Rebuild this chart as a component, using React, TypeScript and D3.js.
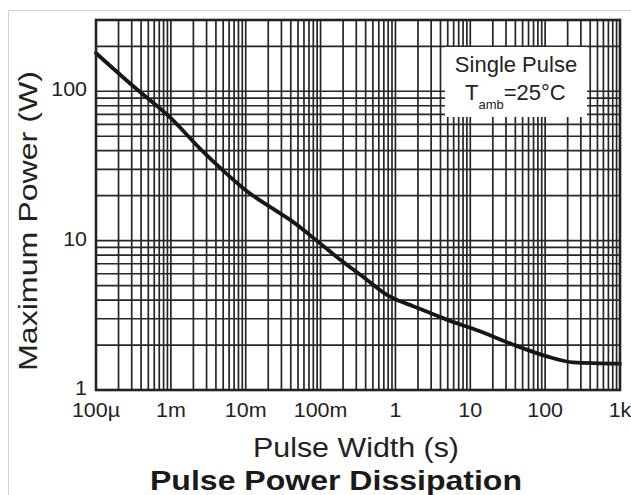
import React from "react";
import * as d3 from "d3";

const pulseWidth = [1e-4, 3.15e-4, 1e-3, 2.45e-3, 5e-3, 0.0104, 0.0233, 0.0432, 0.0887, 0.18, 0.41, 0.76, 1.0, 1.73, 4.84, 13.5, 37.6, 105, 238, 1000];
const maxPower = [180, 108, 66, 41.3, 29.4, 21.4, 16.3, 13.3, 10.0, 7.5, 5.5, 4.35, 4.05, 3.64, 2.96, 2.47, 2.01, 1.68, 1.53, 1.5];

const xTickValues = [1e-4, 1e-3, 1e-2, 1e-1, 1, 10, 100, 1000];
const xTickLabels = ["100\u00b5", "1m", "10m", "100m", "1", "10", "100", "1k"];
const yTickValues = [1, 10, 100];
const yTickLabels = ["1", "10", "100"];

const W = 631;
const H = 495;
const M = { left: 96, right: 620, top: 20, bottom: 390 };
const FONT = "'Liberation Sans', Arial, Helvetica, sans-serif";

export default function App() {
  const x = d3.scaleLog().domain([1e-4, 1e3]).range([M.left, M.right]);
  const y = d3.scaleLog().domain([1, 300]).range([M.bottom, M.top]);

  const xGrid: number[] = [];
  for (let e = -4; e < 3; e++) for (let k = 1; k <= 9; k++) xGrid.push(k * Math.pow(10, e));
  const yGrid: number[] = [];
  for (let e = 0; e < 3; e++) for (let k = 1; k <= 9; k++) {
    const v = k * Math.pow(10, e);
    if (v <= 300) yGrid.push(v);
  }

  const pts: [number, number][] = pulseWidth.map((t, i) => [x(t), y(maxPower[i])]);
  const line = d3.line().curve(d3.curveMonotoneX)(pts) || "";

  const gridColor = "#262626";
  const box = { x0: 445, x1: 587, y0: 47, y1: 117 };

  return (
    <svg width={W} height={H} style={{ position: "absolute", left: 0, top: 0, background: "#fff" }}>
      <rect x={0} y={0} width={W} height={H} fill="#fff" />
      <line x1={8.5} y1={10.5} x2={W} y2={10.5} stroke="#cfcfcf" strokeWidth={1} />
      <line x1={8.5} y1={10.5} x2={8.5} y2={H} stroke="#cfcfcf" strokeWidth={1} />

      <g stroke={gridColor} strokeWidth={1.7}>
        {xGrid.map((v, i) => (
          <line key={"gx" + i} x1={x(v)} x2={x(v)} y1={M.top} y2={M.bottom} />
        ))}
        {yGrid.map((v, i) => (
          <line key={"gy" + i} x1={M.left} x2={M.right} y1={y(v)} y2={y(v)} />
        ))}
      </g>

      <rect x={box.x0} y={box.y0} width={box.x1 - box.x0} height={box.y1 - box.y0} fill="#fff" />
      <text x={(box.x0 + box.x1) / 2} y={72} textAnchor="middle" fontFamily={FONT} fontSize={22} fill="#222">
        Single Pulse
      </text>
      <text x={465} y={100} fontFamily={FONT} fontSize={22} fill="#222">
        T
        <tspan fontSize={13} dy={9}>amb</tspan>
        <tspan dy={-9}>=25°C</tspan>
      </text>

      <path d={line} fill="none" stroke="#161616" strokeWidth={3.8} strokeLinejoin="round" strokeLinecap="round" />

      <rect x={M.left} y={M.top} width={M.right - M.left} height={M.bottom - M.top} fill="none" stroke="#222" strokeWidth={2.6} />

      {xTickValues.map((v, i) => (
        <g key={"xt" + i} transform={`translate(${x(v)},417) scale(1.1,1)`}>
          <text textAnchor="middle" fontFamily={FONT} fontSize={19.5} fill="#222">
            {xTickLabels[i]}
          </text>
        </g>
      ))}
      {yTickValues.map((v, i) => (
        <g key={"yt" + i} transform={`translate(87,${y(v) + 5}) scale(1.1,1)`}>
          <text textAnchor="end" fontFamily={FONT} fontSize={19.5} fill="#222">
            {yTickLabels[i]}
          </text>
        </g>
      ))}

      <text
        transform={`translate(37,221) rotate(-90)`}
        textAnchor="middle"
        fontFamily={FONT}
        fontSize={26}
        fill="#222"
        textLength={300}
        lengthAdjust="spacingAndGlyphs"
      >
        Maximum Power (W)
      </text>
      <text
        x={356}
        y={457}
        textAnchor="middle"
        fontFamily={FONT}
        fontSize={27}
        fill="#222"
        textLength={206}
        lengthAdjust="spacingAndGlyphs"
      >
        Pulse Width (s)
      </text>
      <text
        x={336}
        y={490}
        textAnchor="middle"
        fontFamily={FONT}
        fontSize={27}
        fontWeight="bold"
        fill="#1a1a1a"
        textLength={372}
        lengthAdjust="spacingAndGlyphs"
      >
        Pulse Power Dissipation
      </text>
    </svg>
  );
}
